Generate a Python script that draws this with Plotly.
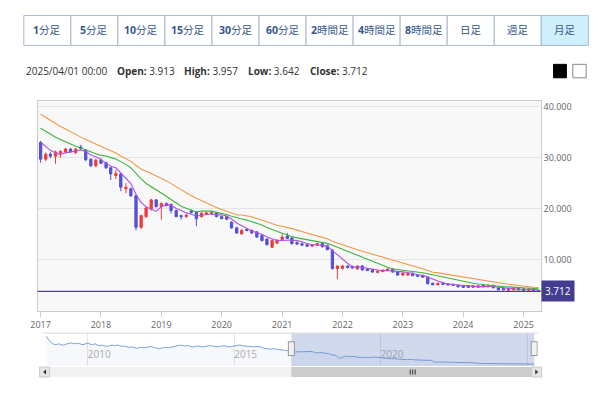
import plotly.graph_objects as go
import pandas as pd

# ---------------- data ----------------
months = pd.date_range("2017-01-01", "2025-04-01", freq="MS")
opens = [33.0, 29.7, 30.7, 30.3, 30.9, 31.1, 31.7, 31.0, 32.1, 31.5, 29.7, 28.4,
         29.5, 29.0, 28.0, 26.5, 26.8, 23.9, 23.9, 22.5, 16.3, 18.4, 19.9, 21.7,
         20.4, 21.0, 20.8, 19.6, 18.6, 18.4, 19.5, 19.3, 18.4, 18.9, 19.0, 19.1,
         18.4, 18.4, 17.3, 16.2, 15.0, 15.9, 15.7, 15.4, 14.7, 14.0, 12.4, 13.2,
         13.9, 14.6, 14.2, 13.3, 13.1, 12.9, 12.6, 12.8, 13.1, 12.7, 11.8, 8.2,
         8.2, 8.7, 8.6, 8.1, 8.7, 8.1, 8.0, 7.4, 7.6, 7.8, 8.1, 7.5,
         6.9, 6.9, 7.3, 6.9, 6.8, 6.5, 5.3, 5.0, 5.3, 5.2, 5.1, 4.9,
         4.8, 4.8, 4.5, 4.5, 4.9, 4.6, 4.9, 4.4, 4.3, 3.9, 4.0, 4.3,
         4.2, 3.9, 4.2, 3.913]
highs = [33.3, 31.0, 31.1, 31.4, 31.5, 31.9, 31.9, 31.9, 32.5, 31.7, 29.9, 29.8,
         29.9, 29.2, 28.2, 27.6, 27.0, 25.0, 24.1, 22.7, 18.8, 20.3, 21.9, 21.9,
         21.2, 21.2, 21.0, 19.8, 18.8, 18.9, 19.8, 19.5, 19.2, 19.3, 19.3, 19.3,
         18.6, 18.6, 17.5, 16.4, 15.9, 16.1, 15.9, 15.6, 14.9, 14.1, 13.9, 13.9,
         15.0, 15.2, 14.4, 13.5, 13.3, 13.1, 13.0, 13.2, 13.3, 12.9, 12.0, 8.8,
         8.9, 8.8, 8.8, 8.8, 8.9, 8.3, 8.1, 7.8, 8.0, 8.2, 8.3, 7.6,
         7.4, 7.3, 7.4, 7.0, 6.9, 6.6, 5.4, 5.4, 5.4, 5.3, 5.2, 5.0,
         4.9, 4.9, 4.9, 4.9, 5.0, 5.0, 5.0, 4.5, 4.4, 4.4, 4.4, 4.4,
         4.3, 4.3, 4.3, 3.957]
lows = [29.0, 29.3, 29.9, 28.8, 30.0, 30.8, 31.0, 30.7, 31.5, 29.3, 28.2, 28.2,
        28.7, 27.8, 25.6, 25.8, 23.4, 23.0, 22.3, 15.7, 16.0, 18.2, 19.6, 20.2,
        17.8, 20.4, 19.0, 18.3, 17.8, 18.2, 19.0, 16.5, 18.2, 18.7, 18.8, 18.3,
        17.9, 17.7, 16.0, 15.0, 14.9, 15.5, 15.0, 14.2, 13.5, 12.7, 12.2, 13.0,
        13.6, 14.0, 12.9, 12.8, 12.6, 12.4, 12.5, 12.7, 12.3, 11.8, 8.0, 6.1,
        8.0, 8.2, 8.1, 8.0, 7.8, 7.7, 7.4, 7.3, 7.5, 7.7, 7.4, 6.8,
        6.8, 6.8, 6.7, 6.6, 6.4, 5.1, 4.9, 4.9, 5.0, 4.9, 4.8, 4.5,
        4.4, 4.4, 4.4, 4.4, 4.5, 4.5, 4.3, 3.9, 3.9, 3.8, 3.9, 3.9,
        3.8, 3.8, 3.8, 3.642]
closes = [29.7, 30.7, 30.3, 31.1, 31.2, 31.7, 31.2, 31.7, 31.8, 29.6, 28.4, 29.5,
          28.9, 28.0, 26.8, 26.9, 24.2, 24.2, 22.5, 16.3, 18.6, 20.1, 21.7, 20.4,
          21.0, 20.6, 19.6, 18.4, 18.4, 18.7, 19.2, 18.0, 19.1, 19.1, 19.2, 18.4,
          18.0, 17.9, 16.2, 15.2, 15.7, 15.7, 15.2, 14.4, 13.7, 12.9, 13.7, 13.8,
          14.4, 14.1, 13.1, 13.0, 12.8, 12.6, 12.9, 13.1, 12.5, 11.9, 8.2, 8.7,
          8.7, 8.4, 8.3, 8.7, 7.9, 7.8, 7.5, 7.7, 7.9, 8.1, 7.5, 6.9,
          7.3, 7.2, 6.8, 6.7, 6.5, 5.2, 5.0, 5.3, 5.1, 5.0, 4.9, 4.6,
          4.5, 4.5, 4.8, 4.8, 4.6, 4.9, 4.4, 4.0, 4.0, 4.3, 4.3, 4.0,
          3.9, 4.2, 3.9, 3.712]

# earlier monthly closes (navigator history, 2008-08 .. 2016-12)
hist_months = pd.date_range("2008-08-01", "2016-12-01", freq="MS")
hist_closes = [66, 57, 52, 48, 47,
               49, 47, 46, 48, 50, 51, 50, 49, 50, 48, 47, 49,
               50, 48, 47, 49, 46, 45, 46, 44, 43, 45, 46, 45,
               46, 45, 43, 44, 42, 41, 42, 40, 39, 40, 41, 40,
               41, 42, 43, 41, 39, 38, 39, 40, 41, 40, 41, 42,
               43, 45, 46, 45, 44, 45, 43, 42, 43, 44, 43, 42,
               43, 44, 45, 44, 43, 42, 43, 44, 45, 43, 42, 43,
               44, 45, 46, 45, 44, 44, 43, 43, 42, 43, 43, 42,
               39, 38, 38, 37, 38, 37, 37, 36, 35, 34, 33.5, 33]

ma_periods = [5, 13, 21]
ma_colors = ["#b24fe4", "#3cb43c", "#f29848"]

year_ticks = ["2017", "2018", "2019", "2020", "2021", "2022", "2023", "2024", "2025"]
nav_years = ["2010", "2015", "2020", "2025"]
y_ticks = [10, 20, 30, 40]
y_ticklabels = ["10.000", "20.000", "30.000", "40.000"]

buttons = ["<b>1</b>分足", "<b>5</b>分足", "<b>10</b>分足", "<b>15</b>分足", "<b>30</b>分足",
           "<b>60</b>分足", "<b>2</b>時間足", "<b>4</b>時間足", "<b>8</b>時間足", "日足", "週足", "月足"]
info_date = "2025/04/01 00:00"
info_open, info_high, info_low, info_close = "3.913", "3.957", "3.642", "3.712"
last_price = 3.712

# ---------------- helpers ----------------
W, H = 600, 393
def px(x):
    return x / W
def py(y):
    return 1 - y / H

all_dates = list(hist_months) + list(months)
all_closes = pd.Series(list(hist_closes) + list(closes), dtype=float)
n_hist = len(hist_closes)

FONT = "Open Sans, Noto Sans CJK JP, sans-serif"
RED = "#f03a3b"
BLUE = "#5050d8"

fig = go.Figure()

fig.add_trace(go.Candlestick(
    x=months, open=opens, high=highs, low=lows, close=closes,
    increasing=dict(line=dict(color=RED, width=1), fillcolor=RED),
    decreasing=dict(line=dict(color=BLUE, width=1), fillcolor=BLUE),
    xaxis="x", yaxis="y", hoverinfo="skip", whiskerwidth=0,
))

for p, c in zip(ma_periods, ma_colors):
    ma = all_closes.rolling(p).mean().iloc[n_hist:]
    fig.add_trace(go.Scatter(x=months, y=ma.values, mode="lines",
                             line=dict(color=c, width=1.1), xaxis="x", yaxis="y",
                             hoverinfo="skip"))

# navigator series
fig.add_trace(go.Scatter(x=all_dates, y=all_closes.values, mode="lines",
                         line=dict(color="#7da3da", width=1),
                         fill="tozeroy", fillcolor="rgba(100,140,210,0.06)",
                         xaxis="x2", yaxis="y2", hoverinfo="skip"))

shapes = []
annotations = []

# main plot background
shapes.append(dict(type="rect", xref="paper", yref="paper", x0=px(31), x1=px(540),
                   y0=py(311), y1=py(100), fillcolor="#f8f8f8", line=dict(width=0),
                   layer="below"))
# price line
shapes.append(dict(type="line", xref="x domain", yref="y", x0=0, x1=1,
                   y0=last_price, y1=last_price, line=dict(color="#4a4197", width=1.2)))
annotations.append(dict(xref="x domain", yref="y", x=1.0, y=last_price, xanchor="left",
                        yanchor="middle", text=f"{last_price:.3f}", showarrow=False,
                        bgcolor="#433d91", borderpad=3,
                        font=dict(color="white", size=10, family=FONT)))

# buttons
bx0, bw = 17, 47.6
for i, b in enumerate(buttons):
    x0 = bx0 + i * bw
    active = (i == len(buttons) - 1)
    shapes.append(dict(type="rect", xref="paper", yref="paper", x0=px(x0), x1=px(x0 + bw),
                       y0=py(44.5), y1=py(14.5),
                       fillcolor="#cfeffc" if active else "white",
                       line=dict(color="#a9b9cd", width=1)))
    annotations.append(dict(xref="paper", yref="paper", x=px(x0 + bw / 2), y=py(29.5),
                            text=b, showarrow=False, xanchor="center", yanchor="middle",
                            font=dict(color="#36588c", size=10.5, family=FONT)))

# info line
info_items = [(17, info_date), (109, f"<b>Open:</b> {info_open}"),
              (177, f"<b>High:</b> {info_high}"), (242, f"<b>Low:</b> {info_low}"),
              (305, f"<b>Close:</b> {info_close}")]
for x, t in info_items:
    annotations.append(dict(xref="paper", yref="paper", x=px(x), y=py(70), text=t,
                            showarrow=False, xanchor="left", yanchor="middle",
                            font=dict(color="#333333", size=10, family=FONT)))
shapes.append(dict(type="rect", xref="paper", yref="paper", x0=px(553), x1=px(566),
                   y0=py(77), y1=py(63.5), fillcolor="black", line=dict(color="black", width=1)))
shapes.append(dict(type="rect", xref="paper", yref="paper", x0=px(572.5), x1=px(586),
                   y0=py(77), y1=py(63.5), fillcolor="white", line=dict(color="#888", width=1)))

# navigator decorations
nav_sel0, nav_sel1 = "2016-12-14", "2025-04-01"
shapes.append(dict(type="rect", xref="x2", yref="paper", x0=nav_sel0, x1=nav_sel1,
                   y0=py(366), y1=py(333), fillcolor="rgba(102,133,194,0.30)",
                   line=dict(width=0)))
shapes.append(dict(type="line", xref="paper", yref="paper", x0=px(36), x1=px(537),
                   y0=py(333), y1=py(333), line=dict(color="#d8d8d8", width=1)))
for hx in [nav_sel0, nav_sel1]:
    shapes.append(dict(type="rect", xref="x2", yref="paper", x0=hx, x1=hx,
                       y0=py(356), y1=py(341), line=dict(color="#999", width=7)))
    shapes.append(dict(type="rect", xref="x2", yref="paper", x0=hx, x1=hx,
                       y0=py(355), y1=py(342), line=dict(color="#f2f2f2", width=5)))
# scrollbar
shapes.append(dict(type="rect", xref="paper", yref="paper", x0=px(33), x1=px(541),
                   y0=py(377), y1=py(367), fillcolor="#f2f2f2", line=dict(width=0)))
shapes.append(dict(type="rect", xref="x2", yref="paper", x0=nav_sel0, x1=nav_sel1,
                   y0=py(377), y1=py(367), fillcolor="#cccccc", line=dict(width=0)))
for a0, a1 in [(33, 43), (531, 541)]:
    shapes.append(dict(type="rect", xref="paper", yref="paper", x0=px(a0), x1=px(a1),
                       y0=py(377), y1=py(367), fillcolor="#e6e6e6",
                       line=dict(color="#cccccc", width=1)))
shapes.append(dict(type="path", xref="paper", yref="paper",
                   path=f"M {px(39.5)} {py(369.5)} L {px(36.5)} {py(372)} L {px(39.5)} {py(374.5)} Z",
                   fillcolor="#333", line=dict(width=0)))
shapes.append(dict(type="path", xref="paper", yref="paper",
                   path=f"M {px(534.5)} {py(369.5)} L {px(537.5)} {py(372)} L {px(534.5)} {py(374.5)} Z",
                   fillcolor="#333", line=dict(width=0)))
for gx in [408, 410.5, 413]:
    shapes.append(dict(type="line", xref="paper", yref="paper", x0=px(gx), x1=px(gx),
                       y0=py(369.5), y1=py(374.5), line=dict(color="#333", width=1)))

fig.update_layout(
    width=W, height=H, margin=dict(l=0, r=0, t=0, b=0),
    paper_bgcolor="white", plot_bgcolor="rgba(0,0,0,0)", showlegend=False,
    font=dict(family=FONT),
    xaxis=dict(domain=[px(31), px(540)], type="date",
               range=["2016-12-14", "2025-04-14"], anchor="y",
               tickvals=[f"{y}-01-01" for y in year_ticks], ticktext=year_ticks,
               showgrid=False, ticks="outside", ticklen=5, tickcolor="#cccccc",
               showline=True, linecolor="#cccccc", mirror=True,
               tickfont=dict(size=9, color="#666666"),
               rangeslider=dict(visible=False), fixedrange=True),
    yaxis=dict(domain=[py(311), py(100)], range=[-0.2, 41.2], side="right", anchor="x",
               tickvals=y_ticks, ticktext=y_ticklabels, gridcolor="#e3e3e3",
               showline=True, linecolor="#cccccc", mirror=True, zeroline=False,
               tickfont=dict(size=9, color="#666666"), ticks="", fixedrange=True),
    xaxis2=dict(domain=[px(36), px(537)], type="date", anchor="y2",
                range=["2008-06-15", "2025-05-15"],
                tickvals=[f"{y}-01-01" for y in nav_years], ticktext=nav_years,
                ticklabelposition="inside right", showgrid=True, gridcolor="#e6e6e6",
                showline=False, ticks="", tickfont=dict(size=10, color="#aaaaaa"),
                fixedrange=True),
    yaxis2=dict(domain=[py(366), py(333)], range=[-0.75, 72.7], anchor="x2",
                visible=False, fixedrange=True),
    shapes=shapes, annotations=annotations,
)

fig.write_html("out.html", config={"displayModeBar": False},
               post_script="document.documentElement.style.margin='0';"
                           "document.documentElement.style.padding='0';"
                           "document.body.style.margin='0';document.body.style.padding='0';"
                           "document.body.style.overflow='hidden';")
